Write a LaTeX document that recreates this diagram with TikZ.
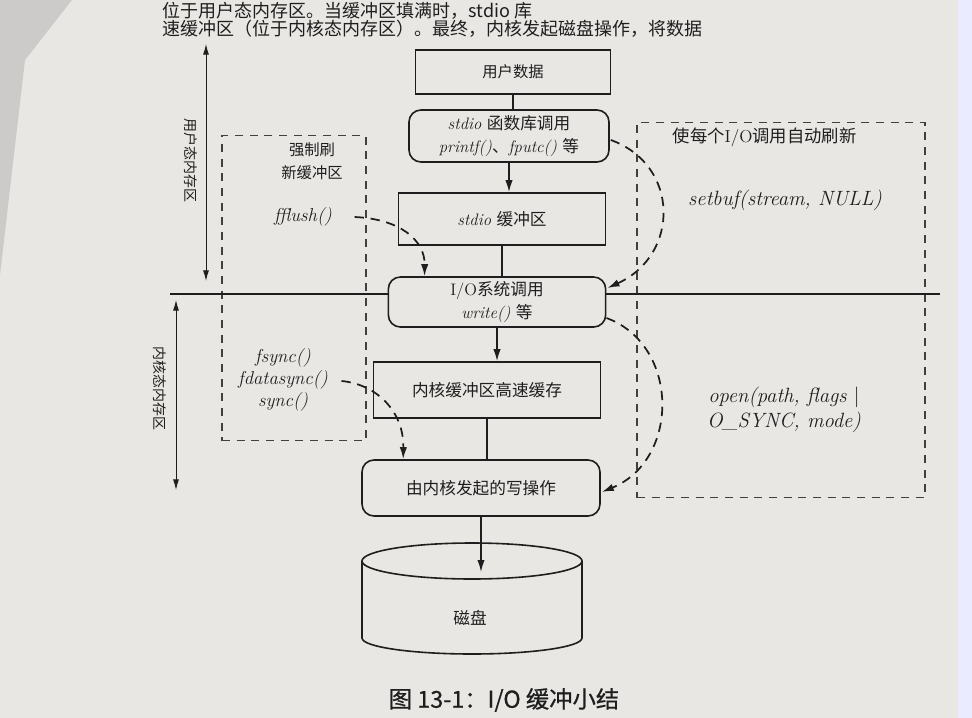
\documentclass[tikz,border=0pt]{standalone}
\usepackage{fontspec}
\newfontfamily\cjk{Noto Sans CJK SC}
\newfontfamily\cjkcap[FakeBold=0.6]{Noto Sans CJK SC}
\usetikzlibrary{arrows.meta,calc}
\newcommand\zh[1]{{\cjk #1}}
\definecolor{paper}{RGB}{233,231,228}
\definecolor{inkc}{RGB}{30,30,30}
\begin{document}
\begin{tikzpicture}[x=0.75pt,y=-0.75pt,
  ink/.style={draw=inkc, line width=1.2pt},
  sqbox/.style={ink, fill=paper, align=center, inner sep=2pt, text=inkc,
    font=\fontsize{12.5}{17}\selectfont},
  rbox/.style={sqbox, rounded corners=9pt},
  conn/.style={draw=inkc, line width=1.2pt},
  arr/.style={-{Latex[length=9pt,width=5.5pt]}},
  dashcurve/.style={draw=inkc, line width=1.3pt, dash pattern=on 7pt off 5pt,
    -{Latex[length=9pt,width=5.5pt]}},
  dashbox/.style={draw=inkc!85, line width=0.8pt, dash pattern=on 6pt off 5pt},
  lbl/.style={text=inkc, align=center, font=\fontsize{11.5}{17}\selectfont},
  fn/.style={text=inkc, align=center, font=\fontsize{14}{16.5}\selectfont\itshape},
  fnr/.style={fn, font=\fontsize{15.5}{18.5}\selectfont\itshape},
  dbl/.style={draw=inkc, line width=0.7pt, {Latex[length=8pt,width=4.5pt]}-{Latex[length=8pt,width=4.5pt]}},
]
\fill[paper] (0,0) rectangle (972,718);
\useasboundingbox (0,0) rectangle (972,718);
\fill[paper!88!black] (0,0) -- (72,0) -- (25,60) -- (0,275) -- cycle;
\fill[white!92!blue] (958,0) rectangle (972,718);

% page text above the figure
\node[anchor=west, text=inkc, font=\cjk\fontsize{13.5}{16}\selectfont] (pt1) at (158,11)
  {位于用户态内存区。当缓冲区填满时，stdio 库};
\node[anchor=west, text=inkc, font=\cjk\fontsize{13.5}{16}\selectfont] (pt2) at (158,29)
  {速缓冲区（位于内核态内存区）。最终，内核发起磁盘操作，将数据};

% dashed groups
\node[dashbox, minimum width=108pt, minimum height=228.75pt] (grpA) at (294,288) {};
\node[dashbox, minimum width=216pt, minimum height=281.25pt] (grpC) at (781,310) {};

% horizontal separator
\coordinate (hl) at (170,294);
\coordinate (hr) at (940,294);

% main column
\node[sqbox, minimum width=146pt, minimum height=33pt,
  font=\fontsize{11.5}{17}\selectfont] (b1) at (513,72) {\zh{用户数据}};
\node[rbox, minimum width=150pt, minimum height=39pt] (b2) at (509,136)
  {{\itshape stdio} \zh{函数库调用}\\{\itshape printf()}\zh{、}{\itshape fputc()} \zh{等}};
\node[sqbox, minimum width=155pt, minimum height=39pt] (b3) at (502,219)
  {{\itshape stdio} \zh{缓冲区}};
\node[rbox, minimum width=163pt, minimum height=37.5pt] (b4) at (497,302)
  {I/O\zh{系统调用}\\{\itshape write()} \zh{等}};
\node[sqbox, minimum width=170pt, minimum height=42pt] (b5) at (487,390)
  {\zh{内核缓冲区高速缓存}};
\node[rbox, minimum width=178.5pt, minimum height=42pt] (b6) at (481,488)
  {\zh{由内核发起的写操作}};

\draw[line width=2.2pt, draw=inkc] (hl) -- (hl -| b4.west);
\draw[line width=2.2pt, draw=inkc] (hr -| b4.east) -- (hr);

% disk
\coordinate (dtop) at (472,561);
\coordinate (dbot) at (472,638);
\fill[paper] ($(dtop)+(-110,0)$) -- ($(dbot)+(-110,0)$)
  arc[start angle=180, end angle=360, x radius=82.5pt, y radius=12pt]
  -- ($(dtop)+(110,0)$) -- cycle;
\draw[ink] ($(dtop)+(-110,0)$) -- ($(dbot)+(-110,0)$)
  arc[start angle=180, end angle=360, x radius=82.5pt, y radius=12pt]
  -- ($(dtop)+(110,0)$);
\draw[ink, fill=paper] (dtop) ellipse [x radius=82.5pt, y radius=13.5pt];
\node[lbl, font=\fontsize{12.5}{15}\selectfont] (disk) at (470,618) {\zh{磁盘}};
\coordinate (disktip) at (481,572);

% main connectors
\draw[conn] (b1.south) -- (b1.south |- b2.north);
\draw[conn, arr] (b2.south) -- (b2.south |- b3.north);
\draw[conn] (b3.south) -- (b3.south |- b4.north);
\draw[conn, arr] (b4.south) -- (b4.south |- b5.north);
\draw[conn] (b5.south) -- (b5.south |- b6.north);
\draw[conn, arr] (b6.south) -- (b6.south |- disktip);

% left memory-region arrows
\coordinate (u1) at (206,44);
\coordinate (u2) at (206,281);
\coordinate (k1) at (176,300);
\coordinate (k2) at (176,490);
\draw[dbl] (u1) -- (u2);
\draw[dbl] (k1) -- (k2);
\node[lbl, rotate=-90, font=\cjk\fontsize{10.5}{12}\selectfont] (ulab) at (191,160) {用户态内存区};
\node[lbl, rotate=-90, font=\cjk\fontsize{10.5}{12}\selectfont] (klab) at (160,388) {内核态内存区};

% group A texts
\node[lbl] (force) at (312,161) {\zh{强制刷}\\\zh{新缓冲区}};
\node[fn] (fflush) at (303,217) {fflush()};
\node[fn] (fsyncs) at (283,380) {fsync()\\fdatasync()\\sync()};

% group C texts
\node[lbl, anchor=west, font=\fontsize{13}{17}\selectfont] (auto) at (668,137) {\zh{使每个}I/O\zh{调用自动刷新}};
\node[fnr] (setbuf) at (785,200) {setbuf(stream, NULL)};
\node[fnr] (openf) at (784,410) {open(path, flags {\upshape|}\\ O\_SYNC, mode)};

% dashed flush arrows
\draw[dashcurve] ($(fflush.east)+(18,0)$) .. controls (400,219) and (425,240) ..
  ($(b4.north west)+(37,0)$);
\draw[dashcurve] ($(fsyncs.east)+(9,1)$) .. controls (375,384) and (404,410) ..
  ($(b6.north west)+(42,0)$);
\draw[dashcurve] ($(b2.east)+(1,4)$) .. controls (680,165) and (680,255) ..
  ($(b4.east)+(1,-14)$);
\draw[dashcurve] ($(b4.east)+(0,16)$) .. controls (680,345) and (680,460) ..
  ($(b6.east)+(1,4)$);

% caption
\node[text=inkc, font=\cjkcap\fontsize{17.5}{20}\selectfont] (cap) at (504,700) {图 13-1：I/O 缓冲小结};
\end{tikzpicture}
\end{document}
